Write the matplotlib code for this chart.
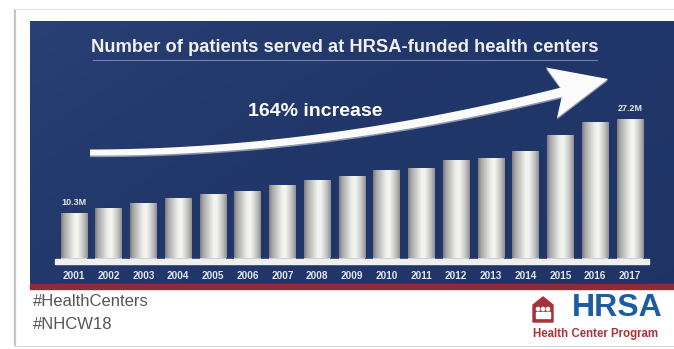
import numpy as np
import matplotlib
matplotlib.use("Agg")
import matplotlib.pyplot as plt
from matplotlib.patches import Rectangle, Polygon, Ellipse
from matplotlib.colors import LinearSegmentedColormap

# ---- data ----
years = ["2001", "2002", "2003", "2004", "2005", "2006", "2007", "2008", "2009",
         "2010", "2011", "2012", "2013", "2014", "2015", "2016", "2017"]
patients_m = [10.3, 11.3, 12.2, 13.1, 13.8, 14.3, 15.4, 16.2, 16.9,
              18.0, 18.5, 19.9, 20.2, 21.5, 24.3, 26.7, 27.2]
title = "Number of patients served at HRSA-funded health centers"
increase_text = "164% increase"
hashtags = ["#HealthCenters", "#NHCW18"]

W, H = 674, 349
fig = plt.figure(figsize=(W / 100, H / 100), dpi=100)
fig.patch.set_facecolor("white")

bg = fig.add_axes([0, 0, 1, 1])
bg.set_xlim(0, W)
bg.set_ylim(H, 0)
bg.axis("off")

# card frame
bg.plot([15, 15], [9, 346], color="#c4c4c4", lw=1.6, solid_capstyle="butt")
bg.plot([15, W], [9, 9], color="#e4e4e4", lw=0.8)
bg.plot([15, W], [346, 346], color="#d8d8d8", lw=0.8)

# navy panel with soft gradient
gx = np.linspace(0, 1, 200)
gy = np.linspace(0, 1, 100)
GX, GY = np.meshgrid(gx, gy)
c_light = np.array([0x2a, 0x41, 0x76]) / 255
c_dark = np.array([0x1b, 0x2e, 0x5e]) / 255
mix = np.clip(0.55 * GX + 0.35 * GY + 0.15 * np.sin(3 * GX + 2 * GY), 0, 1)
img = c_light[None, None, :] * (1 - mix[..., None]) + c_dark[None, None, :] * mix[..., None]
bg.imshow(img, extent=[30, W, 284, 21], aspect="auto", zorder=0, interpolation="bilinear")
bg.add_patch(Rectangle((30, 284), W - 30, 5, color="#8e2c36", zorder=1))
bg.set_xlim(0, W)
bg.set_ylim(H, 0)

# title and underline
bg.text(345, 48, title, ha="center", va="center", color="#f0f0f2",
        fontsize=13.2, fontweight="bold", family="Liberation Sans", zorder=3)
bg.plot([93, 597], [59.5, 59.5], color="#7282a6", lw=0.8, zorder=3)

# curved arrow
P0 = np.array([90, 152.5]); C = np.array([320, 153]); P2 = np.array([568, 90.5])
t = np.linspace(0, 1, 120)[:, None]
pts = (1 - t) ** 2 * P0 + 2 * t * (1 - t) * C + t ** 2 * P2
d = 2 * (1 - t) * (C - P0) + 2 * t * (P2 - C)
d = d / np.linalg.norm(d, axis=1, keepdims=True)
n = np.column_stack([d[:, 1], -d[:, 0]])
hw = (3.0 + 1.6 * t)
upper = pts + n * hw
lower = pts - n * hw
shaft = np.vstack([upper, lower[::-1]])
head = np.array([[608, 79], [546, 67.5], [563, 91], [557, 118]])
for off, col in [((0, 1.6), "#8e96ab"), ((0, 0), "#fbfbfb")]:
    bg.add_patch(Polygon(shaft + np.array(off), closed=True, color=col, zorder=4, lw=0))
    bg.add_patch(Polygon(head + np.array(off), closed=True, color=col, zorder=4, lw=0))

bg.text(315, 112, increase_text, ha="center", va="center", color="white",
        fontsize=14, fontweight="bold", family="Liberation Sans", zorder=5)

# baseline band
bg.add_patch(Rectangle((55, 258.5), 594, 5.5, color="#efefef", zorder=3))

# footer texts
for i, tag in enumerate(hashtags):
    bg.text(33, 301 + 23.5 * i, tag, ha="left", va="center", color="#555555",
            fontsize=12, family=["Liberation Sans Narrow", "Liberation Sans"])

# HRSA logo
bg.add_patch(Polygon([[533, 322], [533, 305], [543, 297], [553, 305], [553, 322]],
                     closed=True, color="#a8323a", zorder=3))
for cx in (538, 543, 548):
    bg.add_patch(Ellipse((cx, 309), 3.2, 3.2, color="white", zorder=4))
    bg.add_patch(Rectangle((cx - 1.6, 312), 3.2, 6, color="white", zorder=4))
bg.text(663, 308, "HRSA", ha="right", va="center", color="#1c5ba6",
        fontsize=23, fontweight="bold", family="Liberation Sans")
bg.text(658, 333.5, "Health Center Program", ha="right", va="center", color="#a8323a",
        fontsize=8.3, fontweight="bold", family="Liberation Sans")

# ---- bar chart axes ----
base_px = 258.5
px_per_m = 5.58
base_val = 2.38
top_px = 95
ax = fig.add_axes([55 / W, (H - base_px) / H, 594 / W, (base_px - top_px) / H])
ax.patch.set_alpha(0)
x = np.arange(len(years))
ylim = (base_val, base_val + (base_px - top_px) / px_per_m)

bars = ax.bar(x, patients_m, width=0.765, color="#cfcfcf", zorder=2)
prof_pos = [0.0, 0.12, 0.5, 0.62, 0.85, 1.0]
prof_col = ["#7d7d7d", "#a9a9a9", "#f2f2ee", "#f4f4f0", "#c2c2c2", "#909090"]
cmap = LinearSegmentedColormap.from_list("silver", list(zip(prof_pos, prof_col)))
grad = np.linspace(0, 1, 64)[None, :]
for b in bars:
    x0, w, h = b.get_x(), b.get_width(), b.get_height()
    ax.imshow(grad, cmap=cmap, extent=[x0, x0 + w, ylim[0], h], aspect="auto",
              zorder=3, interpolation="bilinear")
ax.set_xlim(-0.547, 16.55)
ax.set_ylim(*ylim)

for s in ax.spines.values():
    s.set_visible(False)
ax.set_yticks([])
ax.set_xticks(x)
ax.set_xticklabels(years, fontweight="bold", family="Liberation Sans")
ax.tick_params(axis="x", length=0, pad=8.8, labelsize=7.2, labelcolor="#e2e5ee")

for idx in (0, len(years) - 1):
    ax.annotate(f"{patients_m[idx]}M", (x[idx], patients_m[idx]), xytext=(0, 8.5),
                textcoords="offset points", ha="center", va="center",
                fontsize=6.5, fontweight="bold", color="#e6e6e6", family="Liberation Sans",
                zorder=5)

fig.savefig("out.png", dpi=100, facecolor="white")
